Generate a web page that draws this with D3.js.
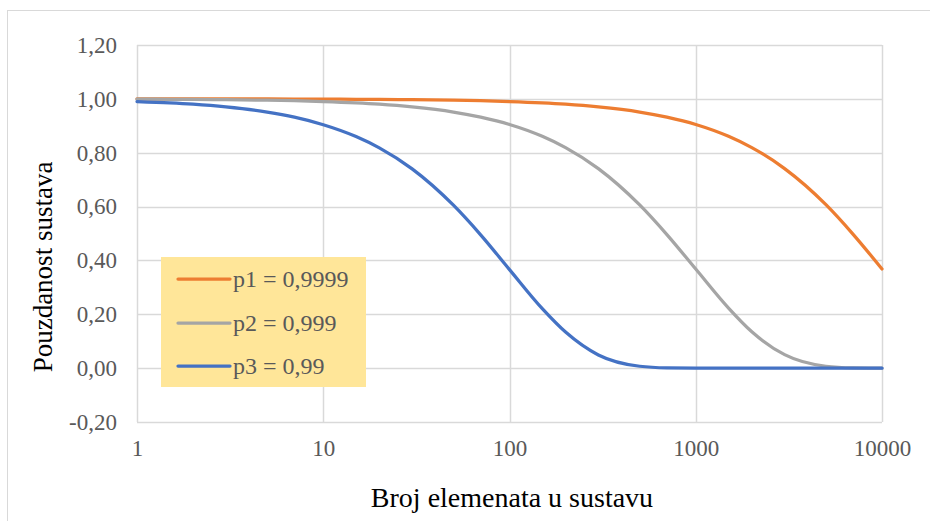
<!DOCTYPE html>
<html><head><meta charset="utf-8">
<script src="https://cdn.jsdelivr.net/npm/d3@7"></script>
<style>html,body{margin:0;padding:0;background:#fff;}svg{display:block;}</style>
</head><body>
<svg id="c" width="930" height="521"></svg>
<script>
const nValues = [1,1.5,2,3,5,7,10,15,20,30,50,70,100,150,200,300,500,700,1000,1500,2000,3000,5000,7000,10000];
const p1Values = [1.000,1.000,1.000,1.000,0.9995,0.9993,0.999,0.9985,0.998,0.997,0.995,0.993,0.990,0.985,0.980,0.970,0.951,0.932,0.905,0.861,0.819,0.741,0.607,0.497,0.368];
const p2Values = [0.999,0.9985,0.998,0.997,0.995,0.993,0.990,0.985,0.980,0.970,0.951,0.932,0.905,0.861,0.819,0.741,0.606,0.496,0.368,0.223,0.135,0.050,0.007,0.001,0.000];
const p3Values = [0.990,0.985,0.980,0.970,0.951,0.932,0.904,0.860,0.818,0.740,0.605,0.495,0.366,0.221,0.134,0.049,0.007,0.001,0.000,0.000,0.000,0.000,0.000,0.000,0.000];
const seriesNames = ["p1 = 0,9999","p2 = 0,999","p3 = 0,99"];
const seriesColors = ["#ED7D31","#A5A5A5","#4472C4"];
const xTicks = [1,10,100,1000,10000];
const yTicks = [-0.2,0,0.2,0.4,0.6,0.8,1.0,1.2];
const xTitle = "Broj elemenata u sustavu";
const yTitle = "Pouzdanost sustava";

const svg = d3.select("#c");
const font = "'Liberation Serif','Times New Roman',serif";
// outer border
svg.append("rect").attr("x",7.5).attr("y",10.5).attr("width",940).attr("height",530)
  .attr("fill","#fff").attr("stroke","#d9d9d9").attr("stroke-width",1);

const L=137, R=882, T=45, B=422;
const x = d3.scaleLog().domain([1,10000]).range([L,R]);
const y = d3.scaleLinear().domain([-0.2,1.2]).range([B,T]);

const g = svg.append("g");
// grid
g.selectAll(".hg").data(yTicks).join("line")
  .attr("x1",L).attr("x2",R).attr("y1",d=>Math.round(y(d))+0.5).attr("y2",d=>Math.round(y(d))+0.5)
  .attr("stroke","#d9d9d9").attr("stroke-width",1.5);
g.selectAll(".vg").data(xTicks).join("line")
  .attr("y1",T).attr("y2",B).attr("x1",d=>Math.round(x(d))+0.5).attr("x2",d=>Math.round(x(d))+0.5)
  .attr("stroke","#d9d9d9").attr("stroke-width",1.5);

// axes labels via d3 axes
const yAxis = d3.axisLeft(y).tickValues(yTicks).tickSize(0).tickPadding(20)
  .tickFormat(d=>d3.format(".2f")(d).replace(".",",").replace("−","-"));
const ya = svg.append("g").attr("transform",`translate(${L},0)`).call(yAxis);
ya.select(".domain").remove();
ya.attr("font-family",font).attr("font-size",23);
ya.selectAll("text").attr("font-family",font).attr("font-size",23).attr("fill","#595959");

const xAxis = d3.axisBottom(x).tickValues(xTicks).tickSize(0).tickPadding(18).tickFormat(d3.format("d"));
const xa = svg.append("g").attr("transform",`translate(0,${B})`).call(xAxis);
xa.select(".domain").remove();
xa.attr("font-family",font).attr("font-size",23);
xa.selectAll("text").attr("font-family",font).attr("font-size",23).attr("fill","#595959");

// lines
const all = [p1Values,p2Values,p3Values];
const line = d3.line().x(d=>x(d[0])).y(d=>y(d[1])).curve(d3.curveMonotoneX);
all.forEach((vals,i)=>{
  svg.append("path").datum(nValues.map((n,j)=>[n,vals[j]]))
    .attr("d",line).attr("fill","none").attr("stroke",seriesColors[i])
    .attr("stroke-width",3.25).attr("stroke-linecap","round");
});

// legend
const lg = svg.append("g");
lg.append("rect").attr("x",161).attr("y",257).attr("width",205).attr("height",130).attr("fill","#FFE699");
const rowsY=[279,323,366];
seriesNames.forEach((s,i)=>{
  lg.append("line").attr("x1",178).attr("x2",230).attr("y1",rowsY[i]).attr("y2",rowsY[i])
    .attr("stroke",seriesColors[i]).attr("stroke-width",3.25).attr("stroke-linecap","round");
  lg.append("text").attr("x",233).attr("y",rowsY[i]+8).text(s)
    .attr("font-family",font).attr("font-size",24).attr("fill","#595959");
});

// titles
svg.append("text").attr("x",512).attr("y",507).attr("text-anchor","middle")
  .attr("font-family",font).attr("font-size",28).attr("fill","#000").text(xTitle);
svg.append("text").attr("transform",`translate(52,267) rotate(-90)`).attr("text-anchor","middle")
  .attr("font-family",font).attr("font-size",27).attr("fill","#000").text(yTitle);
</script>
</body></html>
